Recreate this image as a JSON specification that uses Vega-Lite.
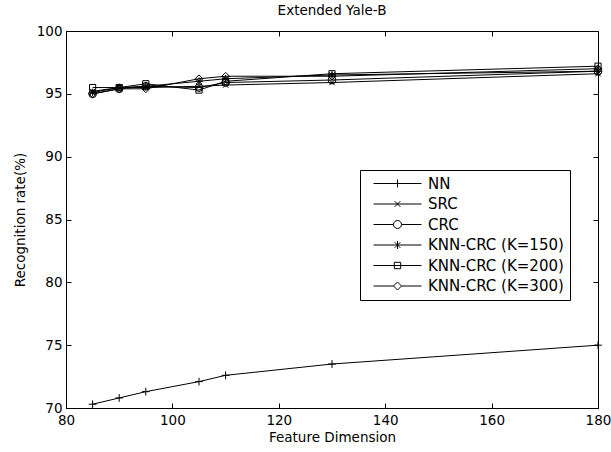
{
  "$schema": "https://vega.github.io/schema/vega-lite/v6.json",
  "width": 532,
  "height": 377,
  "autosize": "none",
  "padding": {"left": 66, "top": 31, "right": 13, "bottom": 44},
  "background": "white",
  "config": {
    "font": "DejaVu Sans",
    "view": {"stroke": "black", "strokeWidth": 1},
    "axis": {"grid": false, "domain": false, "ticks": true, "tickColor": "black", "tickSize": 5, "tickWidth": 1, "labelFlush": false, "labelPadding": 4, "labelColor": "black", "labelFontSize": 13.5, "labelFont": "DejaVu Sans", "titleFont": "DejaVu Sans", "titleFontWeight": "normal", "titleFontSize": 13.5, "titleColor": "black"},
    "title": {"font": "DejaVu Sans", "fontSize": 13.5, "fontWeight": "normal", "color": "black", "offset": 7}
  },
  "title": "Extended Yale-B",
  "data": {"values": [
    {"method": "NN", "dim": 85, "rate": 70.3},
    {"method": "NN", "dim": 90, "rate": 70.8},
    {"method": "NN", "dim": 95, "rate": 71.3},
    {"method": "NN", "dim": 105, "rate": 72.1},
    {"method": "NN", "dim": 110, "rate": 72.6},
    {"method": "NN", "dim": 130, "rate": 73.5},
    {"method": "NN", "dim": 180, "rate": 75.0},
    {"method": "SRC", "dim": 85, "rate": 95.2},
    {"method": "SRC", "dim": 90, "rate": 95.5},
    {"method": "SRC", "dim": 95, "rate": 95.5},
    {"method": "SRC", "dim": 105, "rate": 95.6},
    {"method": "SRC", "dim": 110, "rate": 95.7},
    {"method": "SRC", "dim": 130, "rate": 95.9},
    {"method": "SRC", "dim": 180, "rate": 96.6},
    {"method": "CRC", "dim": 85, "rate": 95.0},
    {"method": "CRC", "dim": 90, "rate": 95.4},
    {"method": "CRC", "dim": 95, "rate": 95.6},
    {"method": "CRC", "dim": 105, "rate": 95.5},
    {"method": "CRC", "dim": 110, "rate": 95.9},
    {"method": "CRC", "dim": 130, "rate": 96.1},
    {"method": "CRC", "dim": 180, "rate": 96.8},
    {"method": "KNN-CRC (K=150)", "dim": 85, "rate": 95.1},
    {"method": "KNN-CRC (K=150)", "dim": 90, "rate": 95.5},
    {"method": "KNN-CRC (K=150)", "dim": 95, "rate": 95.6},
    {"method": "KNN-CRC (K=150)", "dim": 105, "rate": 96.0},
    {"method": "KNN-CRC (K=150)", "dim": 110, "rate": 96.2},
    {"method": "KNN-CRC (K=150)", "dim": 130, "rate": 96.5},
    {"method": "KNN-CRC (K=150)", "dim": 180, "rate": 96.8},
    {"method": "KNN-CRC (K=200)", "dim": 85, "rate": 95.5},
    {"method": "KNN-CRC (K=200)", "dim": 90, "rate": 95.5},
    {"method": "KNN-CRC (K=200)", "dim": 95, "rate": 95.8},
    {"method": "KNN-CRC (K=200)", "dim": 105, "rate": 95.3},
    {"method": "KNN-CRC (K=200)", "dim": 110, "rate": 96.0},
    {"method": "KNN-CRC (K=200)", "dim": 130, "rate": 96.6},
    {"method": "KNN-CRC (K=200)", "dim": 180, "rate": 97.2},
    {"method": "KNN-CRC (K=300)", "dim": 85, "rate": 95.0},
    {"method": "KNN-CRC (K=300)", "dim": 90, "rate": 95.4},
    {"method": "KNN-CRC (K=300)", "dim": 95, "rate": 95.4},
    {"method": "KNN-CRC (K=300)", "dim": 105, "rate": 96.2},
    {"method": "KNN-CRC (K=300)", "dim": 110, "rate": 96.4},
    {"method": "KNN-CRC (K=300)", "dim": 130, "rate": 96.4},
    {"method": "KNN-CRC (K=300)", "dim": 180, "rate": 97.0}
  ]},
  "layer": [
    {
      "mark": {"type": "line", "color": "black", "strokeWidth": 1},
      "encoding": {
        "x": {"field": "dim", "type": "quantitative", "scale": {"domain": [80, 180], "nice": false, "zero": false}, "axis": {"title": "Feature Dimension", "values": [80, 100, 120, 140, 160, 180], "ticks": false, "labelPadding": 5, "titlePadding": 4}},
        "y": {"field": "rate", "type": "quantitative", "scale": {"domain": [70, 100], "nice": false, "zero": false}, "axis": {"title": "Recognition rate(%)", "values": [70, 75, 80, 85, 90, 95, 100], "ticks": false, "labelPadding": 4, "titlePadding": 9}},
        "detail": {"field": "method"}
      }
    },
    {
      "mark": {"type": "point", "filled": false, "stroke": "black", "strokeWidth": 1, "size": 60, "opacity": 1},
      "encoding": {
        "x": {"field": "dim", "type": "quantitative", "axis": {"orient": "top", "offset": -377, "title": null, "labels": false, "ticks": true, "values": [80, 100, 120, 140, 160, 180]}},
        "y": {"field": "rate", "type": "quantitative", "axis": {"orient": "right", "offset": -532, "title": null, "labels": false, "ticks": true, "values": [70, 75, 80, 85, 90, 95, 100]}},
        "shape": {"field": "method", "type": "nominal", "legend": null,
          "scale": {"domain": ["NN", "SRC", "CRC", "KNN-CRC (K=150)", "KNN-CRC (K=200)", "KNN-CRC (K=300)"],
            "range": ["M-1,0L1,0M0,-1L0,1", "M-0.7,-0.7L0.7,0.7M-0.7,0.7L0.7,-0.7", "circle", "M-1,0L1,0M0,-1L0,1M-0.7,-0.7L0.7,0.7M-0.7,0.7L0.7,-0.7", "M-0.8,-0.8L0.8,-0.8L0.8,0.8L-0.8,0.8Z", "M0,-1L1,0L0,1L-1,0Z"]}}
      }
    },
    {
      "mark": {"type": "point", "filled": false, "stroke": "black", "strokeWidth": 1, "size": 60, "opacity": 0},
      "encoding": {
        "x": {"field": "dim", "type": "quantitative", "axis": {"orient": "bottom", "offset": -377, "title": null, "labels": false, "ticks": true, "values": [80, 100, 120, 140, 160, 180]}},
        "y": {"field": "rate", "type": "quantitative", "axis": {"orient": "left", "offset": -532, "title": null, "labels": false, "ticks": true, "values": [70, 75, 80, 85, 90, 95, 100]}},
        "shape": {"field": "method", "type": "nominal",
          "scale": {"domain": ["NN", "SRC", "CRC", "KNN-CRC (K=150)", "KNN-CRC (K=200)", "KNN-CRC (K=300)"],
            "range": ["M-6,0L6,0M-1,0L1,0M0,-1L0,1", "M-6,0L6,0M-0.7,-0.7L0.7,0.7M-0.7,0.7L0.7,-0.7", "M-6,0L-1,0A1,1 0 1,1 1,0A1,1 0 1,1 -1,0M1,0L6,0", "M-6,0L6,0M0,-1L0,1M-0.7,-0.7L0.7,0.7M-0.7,0.7L0.7,-0.7", "M-6,0L6,0M-0.8,-0.8L0.8,-0.8L0.8,0.8L-0.8,0.8Z", "M-6,0L-1,0L0,-1L1,0L0,1L-1,0M1,0L6,0"]},
          "legend": {"title": null, "orient": "none", "legendX": 294, "legendY": 139, "padding": 6, "strokeColor": "black", "fillColor": "white", "symbolSize": 64, "symbolOffset": 24, "labelOffset": 23, "rowPadding": 4.5, "labelFontSize": 15, "labelColor": "black", "labelFont": "DejaVu Sans", "symbolStrokeColor": "black", "symbolFillColor": "transparent", "symbolStrokeWidth": 1, "symbolOpacity": 1,
            "encode": {"symbols": {"update": {"opacity": {"value": 1}, "strokeOpacity": {"value": 1}}}}}
        }
      }
    }
  ],
  "resolve": {"scale": {"shape": "independent"}, "axis": {"x": "independent", "y": "independent"}}
}
